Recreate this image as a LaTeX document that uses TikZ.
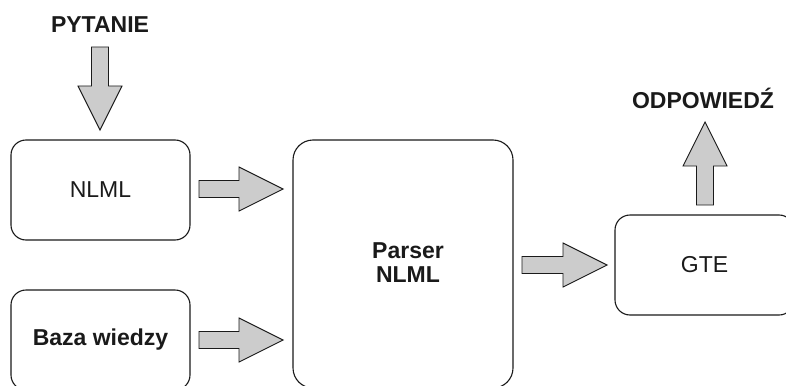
\documentclass[tikz,border=0pt]{standalone}
\usepackage{fontspec}
\setmainfont{Liberation Sans}
\usetikzlibrary{calc}
\definecolor{arrowfill}{RGB}{204,204,204}
\definecolor{ink}{RGB}{26,26,26}
\tikzset{
  module/.style={draw=ink, line width=1.1pt, rounded corners=15pt, fill=white,
    minimum width=179pt, minimum height=100pt, inner sep=0pt, outer sep=0pt,
    font=\fontsize{23}{27}\selectfont, text=ink},
  caption/.style={font=\bfseries\fontsize{23}{27}\selectfont, text=ink, inner sep=0pt},
  flowarrow/.style={draw=ink, line width=0.9pt, fill=arrowfill, line join=miter}
}
% block arrow from #1 to #2: shaft 17pt wide, head 44pt wide and 44pt long
\newcommand\blockarrow[2]{%
  \draw[flowarrow] let \p1=(#1), \p2=(#2),
      \n1={atan2(\y2-\y1,\x2-\x1)}, \n2={veclen(\x2-\x1,\y2-\y1)} in
    {[shift={(\p1)}, rotate=\n1]
      (0pt,-8.5pt) -- ({(\n2)*1pt-44pt},-8.5pt) -- ({(\n2)*1pt-44pt},-22pt)
      -- ({(\n2)*1pt},0pt) -- ({(\n2)*1pt-44pt},22pt) -- ({(\n2)*1pt-44pt},8.5pt)
      -- (0pt,8.5pt) -- cycle};
}
\begin{document}
\begin{tikzpicture}[x=1pt,y=-1pt]
  \useasboundingbox (0,0) rectangle (786,385);
  \clip (0,0) rectangle (786,385);

  % modules
  \node[module] (nlml) at (100.5,190) {NLML};
  \node[module, font=\bfseries\fontsize{23}{27}\selectfont] (baza) at (100.5,340) {Baza wiedzy};
  \node[module, rounded corners=20pt, minimum width=220pt, minimum height=248pt] (parser) at (403,264) {};
  \node[caption, align=center] (parsertxt) at ([xshift=5pt,yshift=1pt]parser.center) {Parser\\[-3pt]NLML};
  \node[module] (gte) at (704.5,265) {GTE};

  % input and output captions
  \node[caption, anchor=base] (pyt) at (100,33) {PYTANIE};
  \node[caption, anchor=base] (odp) at (703,109) {ODPOWIEDŹ};

  % end points of the block arrows
  \coordinate (q0) at (100,47);   \coordinate (q1) at (100,130);
  \coordinate (n0) at (199,189);  \coordinate (n1) at (283,189);
  \coordinate (b0) at (199,340);  \coordinate (b1) at (283,340);
  \coordinate (p0) at (522,265);  \coordinate (p1) at (607,265);
  \coordinate (g0) at (705,205);  \coordinate (g1) at (705,122);

  % block arrows
  \blockarrow{q0}{q1}
  \blockarrow{n0}{n1}
  \blockarrow{b0}{b1}
  \blockarrow{p0}{p1}
  \blockarrow{g0}{g1}
\end{tikzpicture}
\end{document}
